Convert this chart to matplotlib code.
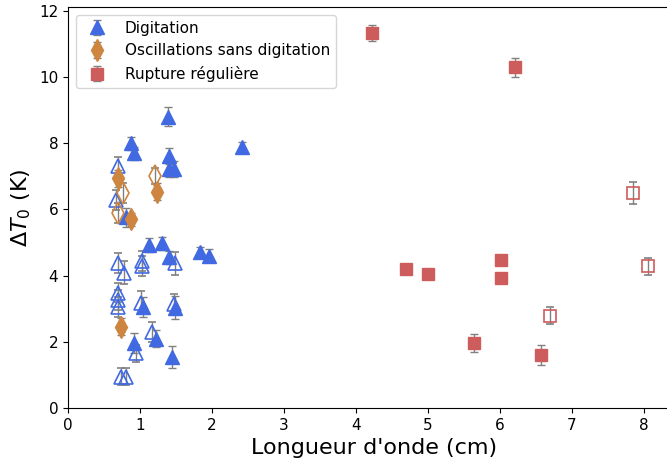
import numpy as np
import matplotlib
matplotlib.use("Agg")
import matplotlib.pyplot as plt

# Digitation (triangles)
dig_x = [1.39, 0.88, 0.92, 1.40, 1.40, 1.47, 2.42, 0.80, 1.12, 1.30, 1.40, 1.83, 1.96, 1.48, 1.04, 0.92, 1.22, 1.45]
dig_y = [8.81, 8.00, 7.70, 7.62, 7.22, 7.22, 7.88, 5.76, 4.93, 4.98, 4.56, 4.73, 4.60, 3.03, 3.05, 1.96, 2.10, 1.55]
dig_err = [0.30, 0.20, 0.20, 0.25, 0.25, 0.25, 0.15, 0.30, 0.20, 0.20, 0.20, 0.15, 0.20, 0.35, 0.30, 0.30, 0.25, 0.33]
dig_open_x = [0.70, 0.66, 0.70, 0.78, 1.03, 1.03, 1.49, 0.70, 0.70, 0.70, 1.01, 1.16, 0.94, 0.73, 0.81, 1.47]
dig_open_y = [7.30, 6.29, 4.37, 4.09, 4.45, 4.30, 4.37, 3.49, 3.27, 3.06, 3.18, 2.29, 1.65, 0.95, 0.95, 3.15]
dig_open_err = [0.30, 0.30, 0.30, 0.34, 0.30, 0.30, 0.35, 0.30, 0.30, 0.30, 0.35, 0.30, 0.25, 0.25, 0.25, 0.30]

# Oscillations sans digitation (diamonds)
osc_x = [0.69, 1.24, 0.88, 0.73]
osc_y = [6.94, 6.54, 5.70, 2.46]
osc_err = [0.25, 0.25, 0.20, 0.25]
osc_open_x = [1.21, 0.77, 0.70]
osc_open_y = [7.01, 6.51, 5.89]
osc_open_err = [0.25, 0.30, 0.30]

# Rupture reguliere (squares)
rup_x = [4.22, 6.21, 4.70, 5.00, 6.02, 6.02, 5.64, 6.57]
rup_y = [11.34, 10.30, 4.20, 4.04, 4.46, 3.93, 1.96, 1.60]
rup_err = [0.25, 0.29, 0.10, 0.15, 0.10, 0.10, 0.28, 0.29]
rup_open_x = [6.69, 7.85, 8.05]
rup_open_y = [2.79, 6.50, 4.28]
rup_open_err = [0.25, 0.32, 0.25]

blue = '#4169E1'
orange = '#CD853F'
red = '#CD5C5C'

fig = plt.figure(figsize=(6.67, 4.62), dpi=100)
ax = fig.add_axes([68 / 667, 54 / 462, 8.5 * 72 / 667, 401 / 462])

eb = dict(linestyle='none', ecolor='grey', elinewidth=1, capsize=3, capthick=1)

ax.errorbar(dig_x, dig_y, yerr=dig_err, marker='^', ms=10, color=blue, label='Digitation', **eb)
ax.errorbar(dig_open_x, dig_open_y, yerr=dig_open_err, marker='^', ms=10, mfc='none', mec=blue, mew=1.2, **eb)
ax.errorbar(osc_x, osc_y, yerr=osc_err, marker='d', ms=11, color=orange, label='Oscillations sans digitation', **eb)
ax.errorbar(osc_open_x, osc_open_y, yerr=osc_open_err, marker='d', ms=11, mfc='none', mec=orange, mew=1.2, **eb)
ax.errorbar(rup_x, rup_y, yerr=rup_err, marker='s', ms=9, color=red, label='Rupture régulière', **eb)
ax.errorbar(rup_open_x, rup_open_y, yerr=rup_open_err, marker='s', ms=9, mfc='none', mec=red, mew=1.2, **eb)

ax.set_xlim(0, 8.5)
ax.set_ylim(0, 12.12)
ax.set_xticks(range(0, 9))
ax.set_yticks(range(0, 13, 2))
ax.tick_params(labelsize=11)
ax.set_xlabel("Longueur d'onde (cm)", fontsize=16)
ax.set_ylabel(r'$\Delta T_0$ (K)', fontsize=16)
ax.legend(loc='upper left', fontsize=11)

fig.savefig('out.png', dpi=100)
